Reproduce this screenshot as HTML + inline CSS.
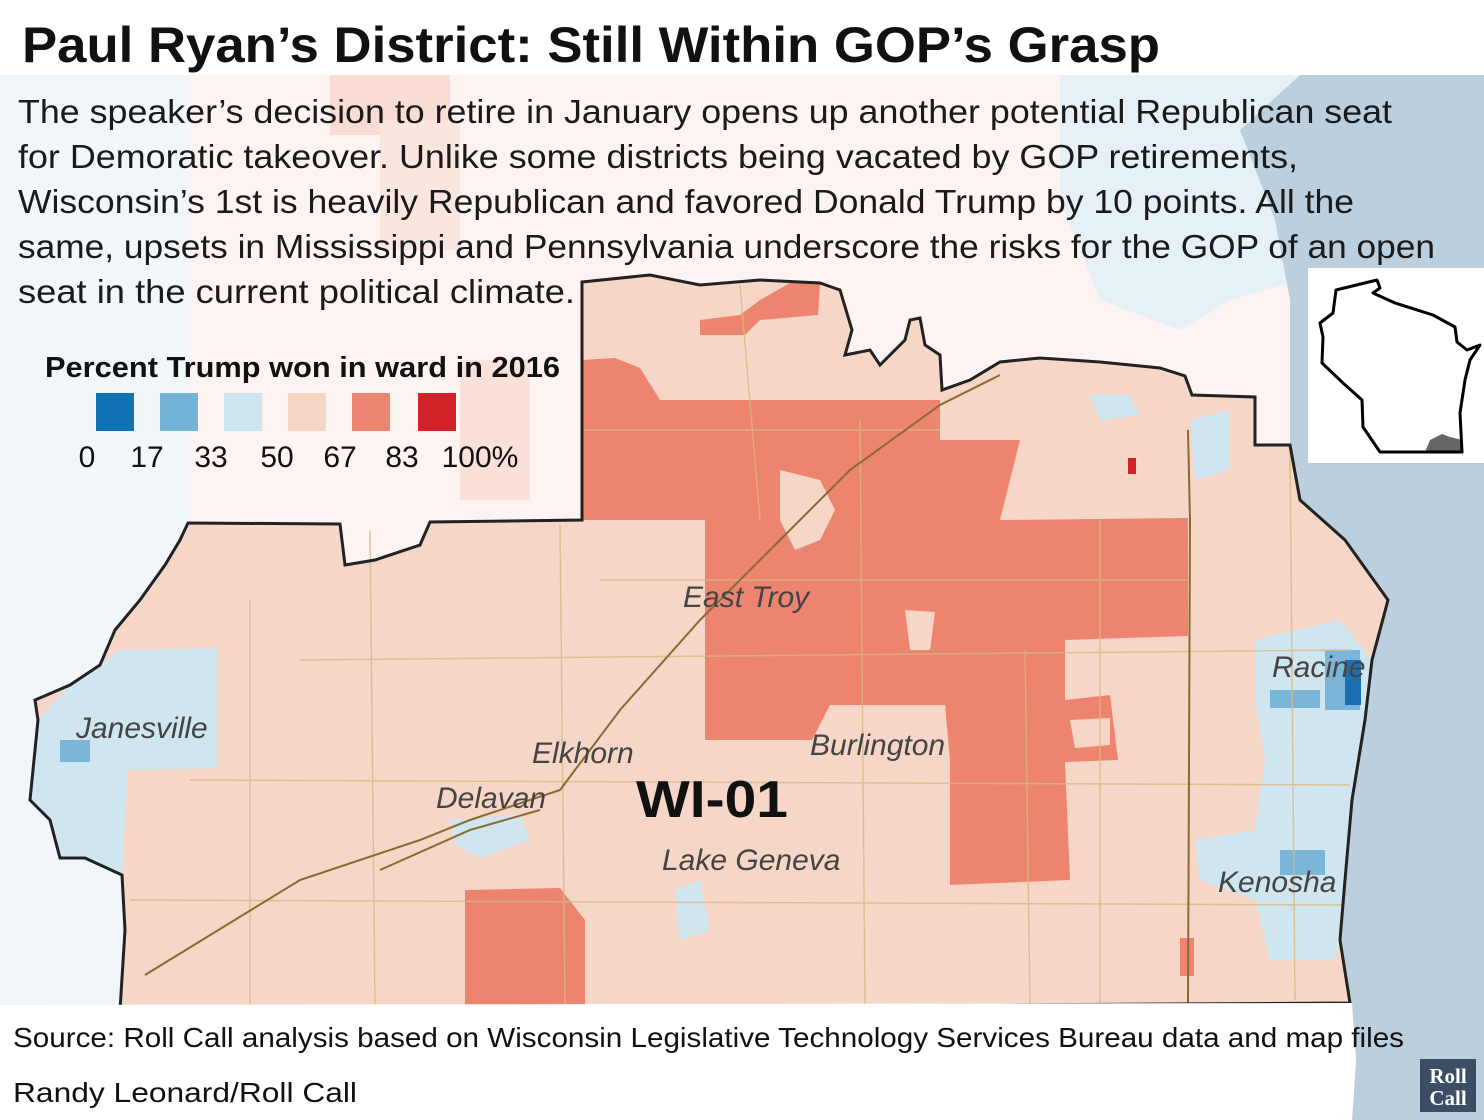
<!DOCTYPE html>
<html><head><meta charset="utf-8"><style>
html,body{margin:0;padding:0;background:#fff}
svg{display:block}
</style></head><body>
<svg width="1484" height="1120" viewBox="0 0 1484 1120" xmlns="http://www.w3.org/2000/svg">
<defs>
<path id="dist" d="M582,282 L650,275 L700,285 L760,280 L820,283 L840,290 L852,330 L845,355 L870,350 L880,365 L905,340 L910,320 L920,318 L925,345 L940,355 L942,390 L970,380 L1000,362 L1040,358 L1100,362 L1160,368 L1185,376 L1192,395 L1255,397 L1255,445 L1290,445 L1300,500 L1345,540 L1388,600 L1372,660 L1365,720 L1352,800 L1345,880 L1340,940 L1350,1003 L120,1010 L125,930 L122,875 L85,858 L60,858 L50,820 L30,800 L38,720 L35,700 L70,685 L100,665 L115,630 L140,600 L165,565 L180,540 L188,523 L340,524 L345,565 L375,560 L420,545 L430,522 L582,520 Z"/>
</defs>
<!-- background map -->
<rect x="0" y="75" width="1484" height="1045" fill="#fdf4f1"/>
<rect x="0" y="75" width="190" height="935" fill="#f1f6fa"/>
<polygon points="1060,75 1300,75 1300,280 1230,300 1180,330 1100,300 1060,200" fill="#e6f0f7"/>
<rect x="330" y="75" width="120" height="60" fill="#f9ddd5"/>
<rect x="380" y="120" width="80" height="130" fill="#fae5df"/>
<rect x="460" y="360" width="70" height="140" fill="#f9e0d8"/>
<!-- lake -->
<path d="M1300,75 L1484,75 L1484,1120 L1352,1120 L1356,1060 L1350,1003 L1340,940 L1345,880 L1352,800 L1365,720 L1372,660 L1388,600 L1345,540 L1300,500 L1290,445 L1290,300 L1275,220 L1240,130 Z" fill="#bccfde"/>
<!-- district -->
<use href="#dist" fill="#f6d6c6"/>
<!-- red regions -->
<path d="M582,360 L615,358 L640,368 L660,400 L940,400 L940,440 L1020,440 L1000,520 L1188,518 L1188,636 L1065,640 L1065,700 L1110,695 L1118,760 L1065,762 L1070,880 L950,885 L950,760 L945,705 L830,705 L812,740 L705,740 L705,520 L582,520 Z" fill="#ec8470"/>
<path d="M465,890 L560,888 L585,920 L585,1008 L465,1008 Z" fill="#ec8470"/>
<path d="M700,320 L740,315 L760,300 L790,283 L820,283 L818,315 L760,320 L745,335 L700,335 Z" fill="#ec8470"/>
<path d="M780,470 L820,480 L835,510 L820,540 L795,550 L780,520 Z" fill="#f6d6c6"/>
<path d="M905,610 L935,612 L930,650 L910,650 Z" fill="#f6d6c6"/>
<path d="M1070,720 L1110,718 L1110,745 L1075,748 Z" fill="#f6d6c6"/>
<rect x="1128" y="458" width="8" height="16" fill="#d2232a"/>
<rect x="1180" y="938" width="14" height="38" fill="#ec8470"/>
<!-- blue areas -->
<path d="M38,720 L70,685 L100,665 L120,650 L218,648 L218,768 L128,770 L122,875 L85,858 L60,858 L50,820 L30,800 Z" fill="#cfe5f0"/>
<rect x="60" y="740" width="30" height="22" fill="#7bb5d8"/>
<path d="M1255,640 L1340,620 L1372,660 L1365,720 L1352,800 L1345,880 L1340,940 L1335,960 L1270,960 L1255,900 L1200,880 L1195,840 L1255,830 L1265,760 L1255,700 Z" fill="#cfe5f0"/>
<rect x="1325" y="650" width="35" height="60" fill="#7bb5d8"/>
<rect x="1345" y="660" width="16" height="45" fill="#1a70b0"/>
<rect x="1280" y="850" width="45" height="25" fill="#7bb5d8"/>
<rect x="1270" y="690" width="50" height="18" fill="#7bb5d8"/>
<path d="M450,820 L520,815 L530,840 L480,858 L455,845 Z" fill="#cfe5f0"/>
<path d="M675,890 L700,880 L710,930 L680,940 Z" fill="#cfe5f0"/>
<path d="M1090,395 L1130,395 L1140,415 L1100,420 Z" fill="#cfe5f0"/>
<path d="M1190,420 L1230,410 L1230,470 L1195,480 Z" fill="#cfe5f0"/>
<!-- roads -->
<g fill="none" stroke="#d9b886" stroke-width="1.5" opacity="0.8">
<path d="M190,780 L1350,785"/><path d="M130,900 L1345,905"/>
<path d="M370,530 L375,1005"/><path d="M560,525 L565,1005"/>
<path d="M250,600 L250,1005"/><path d="M860,420 L865,1005"/>
<path d="M1025,650 L1030,1005"/><path d="M1290,450 L1295,1000"/>
<path d="M600,580 L1188,580"/><path d="M582,430 L940,430"/>
<path d="M740,285 L760,520"/><path d="M1100,520 L1100,1005"/>
<path d="M300,660 L1350,650"/>
</g>
<g fill="none" stroke="#8a6a30" stroke-width="2">
<path d="M145,975 L300,880 L420,840 L470,820 L560,790 L620,710 L700,620 L780,540 L850,470 L940,405 L1000,375"/>
<path d="M1188,430 L1190,520 L1188,1003"/>
<path d="M380,870 L470,830 L540,810"/>
</g>
<use href="#dist" fill="none" stroke="#222" stroke-width="3"/>
<!-- header -->
<rect x="0" y="0" width="1484" height="75" fill="#fff"/>
<text x="22" y="62" font-family="Liberation Sans, sans-serif" font-weight="bold" font-size="50" textLength="1138" lengthAdjust="spacingAndGlyphs" fill="#111">Paul Ryan’s District: Still Within GOP’s Grasp</text>
<g font-family="Liberation Sans, sans-serif" font-size="33" fill="#1a1a1a">
<text x="18" y="123" textLength="1374" lengthAdjust="spacingAndGlyphs">The speaker’s decision to retire in January opens up another potential Republican seat</text>
<text x="18" y="168" textLength="1280" lengthAdjust="spacingAndGlyphs">for Demoratic takeover. Unlike some districts being vacated by GOP retirements,</text>
<text x="18" y="213" textLength="1336" lengthAdjust="spacingAndGlyphs">Wisconsin’s 1st is heavily Republican and favored Donald Trump by 10 points. All the</text>
<text x="18" y="258" textLength="1417" lengthAdjust="spacingAndGlyphs">same, upsets in Mississippi and Pennsylvania underscore the risks for the GOP of an open</text>
<text x="18" y="303" textLength="557" lengthAdjust="spacingAndGlyphs">seat in the current political climate.</text>
</g>
<!-- legend -->
<text x="45" y="377" font-family="Liberation Sans, sans-serif" font-weight="bold" font-size="29" textLength="515" lengthAdjust="spacingAndGlyphs" fill="#111">Percent Trump won in ward in 2016</text>
<rect x="96" y="393" width="38" height="38" fill="#0f72b4"/>
<rect x="160" y="393" width="38" height="38" fill="#74b3d8"/>
<rect x="224" y="393" width="38" height="38" fill="#cde5f1"/>
<rect x="288" y="393" width="38" height="38" fill="#f6d5c5"/>
<rect x="352" y="393" width="38" height="38" fill="#ec8470"/>
<rect x="418" y="393" width="38" height="38" fill="#d2232a"/>
<g font-family="Liberation Sans, sans-serif" font-size="30" fill="#111" text-anchor="middle">
<text x="87" y="467">0</text><text x="147" y="467">17</text><text x="211" y="467">33</text><text x="277" y="467">50</text><text x="340" y="467">67</text><text x="402" y="467">83</text><text x="480" y="467">100%</text>
</g>
<!-- map labels -->
<g font-family="Liberation Sans, sans-serif" font-style="italic" font-size="30" fill="#444">
<text x="683" y="607">East Troy</text>
<text x="1272" y="677">Racine</text>
<text x="76" y="738">Janesville</text>
<text x="532" y="763">Elkhorn</text>
<text x="810" y="755">Burlington</text>
<text x="436" y="808">Delavan</text>
<text x="662" y="870">Lake Geneva</text>
<text x="1218" y="892">Kenosha</text>
</g>
<text x="636" y="817" font-family="Liberation Sans, sans-serif" font-weight="bold" font-size="52" textLength="152" lengthAdjust="spacingAndGlyphs" fill="#111">WI-01</text>
<!-- inset -->
<rect x="1308" y="268" width="176" height="195" fill="#fff"/>
<path d="M1430,440 L1442,434 L1450,437 L1462,440 L1462,452 L1425,452 Z" fill="#666"/>
<path d="M1336,290 L1377,280 L1380,288 L1373,293 L1395,303 L1433,315 L1455,327 L1457,342 L1467,350 L1480,345 L1470,360 L1465,380 L1460,413 L1462,452 L1380,452 L1363,427 L1362,400 L1343,383 L1322,363 L1323,337 L1320,323 L1333,313 Z" fill="none" stroke="#000" stroke-width="3" stroke-linejoin="round"/>
<!-- footer -->
<path d="M0,1005 L1352,1003 L1356,1060 L1352,1120 L0,1120 Z" fill="#fff"/>
<text x="13" y="1047" font-family="Liberation Sans, sans-serif" font-size="28" textLength="1391" lengthAdjust="spacingAndGlyphs" fill="#111">Source: Roll Call analysis based on Wisconsin Legislative Technology Services Bureau data and map files</text>
<text x="13" y="1102" font-family="Liberation Sans, sans-serif" font-size="28" textLength="344" lengthAdjust="spacingAndGlyphs" fill="#111">Randy Leonard/Roll Call</text>
<rect x="1420" y="1059" width="56" height="53" fill="#3d4d66"/>
<g font-family="Liberation Serif, serif" font-weight="bold" font-size="21" fill="#fff" text-anchor="middle">
<text x="1448" y="1083">Roll</text><text x="1448" y="1105">Call</text>
</g>
</svg>
</body></html>
